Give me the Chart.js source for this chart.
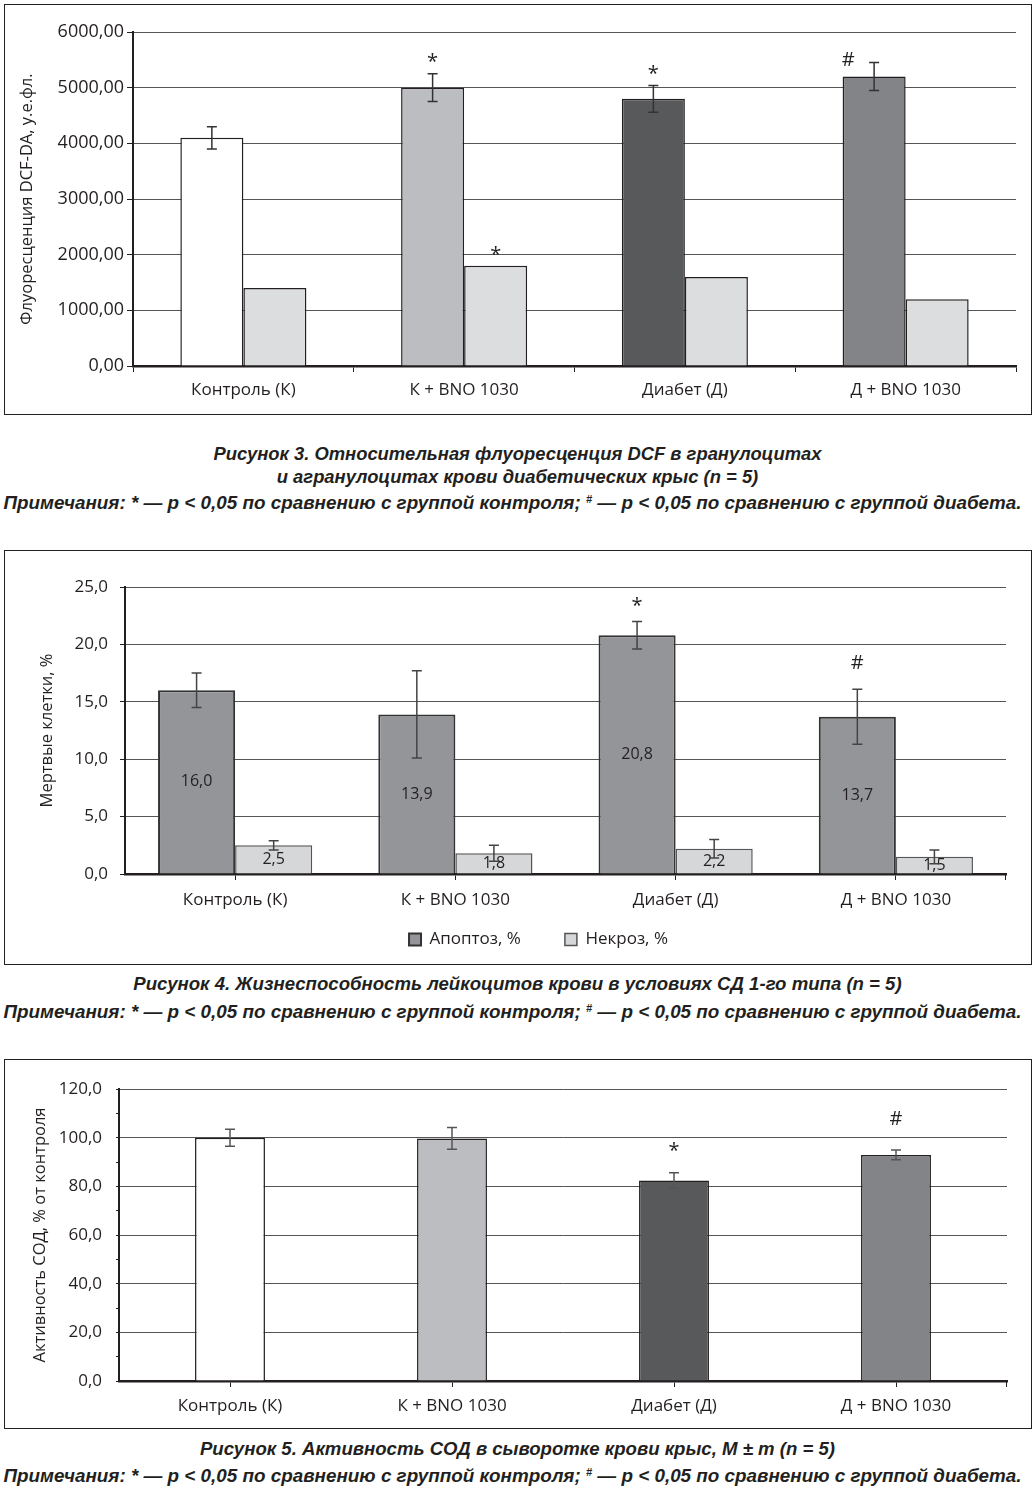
<!DOCTYPE html>
<html lang="ru">
<head>
<meta charset="utf-8">
<title>Рисунки 3–5</title>
<script src="https://cdn.jsdelivr.net/npm/chart.js@4.4.1/dist/chart.umd.min.js"></script>
<style>
  body { margin: 0; width: 1035px; height: 1489px; background: #fff; position: relative; overflow: hidden; }
  .box { position: absolute; left: 4px; width: 1026px; border: 1px solid #231f20; }
  .box canvas { display: block; }
  .cap { position: absolute; left: 0; width: 1035px; text-align: center; white-space: nowrap;
         font: italic bold 18.6px "Liberation Sans", Arial, sans-serif; color: #231f20; line-height: 22px; }
  .cap.note { font-size: 18.85px; left: -5px; }
  .cap sup { font-size: 11px; vertical-align: 6px; line-height: 0; }
</style>
</head>
<body>

<div class="box" style="top:4px;height:409px"><canvas id="fig3" width="1026" height="409"></canvas></div>
<div class="cap" style="top:443px;font-size:18.4px">Рисунок 3. Относительная флуоресценция DCF в гранулоцитах</div>
<div class="cap" style="top:466px;font-size:18.4px">и агранулоцитах крови диабетических крыс (n = 5)</div>
<div class="cap note" style="top:492px">Примечания: * — p &lt; 0,05 по сравнению с группой контроля; <sup>#</sup> — p &lt; 0,05 по сравнению с группой диабета.</div>

<div class="box" style="top:550px;height:413px"><canvas id="fig4" width="1026" height="413"></canvas></div>
<div class="cap" style="top:973px">Рисунок 4. Жизнеспособность лейкоцитов крови в условиях СД 1-го типа (n = 5)</div>
<div class="cap note" style="top:1001px">Примечания: * — p &lt; 0,05 по сравнению с группой контроля; <sup>#</sup> — p &lt; 0,05 по сравнению с группой диабета.</div>

<div class="box" style="top:1059px;height:368px"><canvas id="fig5" width="1026" height="368"></canvas></div>
<div class="cap" style="top:1438px">Рисунок 5. Активность СОД в сыворотке крови крыс, M ± m (n = 5)</div>
<div class="cap note" style="top:1465px">Примечания: * — p &lt; 0,05 по сравнению с группой контроля; <sup>#</sup> — p &lt; 0,05 по сравнению с группой диабета.</div>

<script>
const groups = ["Контроль (К)", "К + BNO 1030", "Диабет (Д)", "Д + BNO 1030"];

// Рисунок 3 - флуоресценция DCF
const dcfGran = [4100, 5000, 4800, 5200];
const dcfGranErr = [200, 250, 240, 250];
const dcfAgran = [1400, 1800, 1600, 1200];
const dcfGranMarks = ["", "*", "*", "#"];
const dcfAgranMarks = ["", "*", "", ""];
const dcfTicks = [0, 1000, 2000, 3000, 4000, 5000, 6000];

// Рисунок 4 - мертвые клетки
const apoptosis = [16.0, 13.9, 20.8, 13.7];
const apoptosisErr = [1.5, 3.8, 1.2, 2.4];
const necrosis = [2.5, 1.8, 2.2, 1.5];
const necrosisErr = [0.4, 0.7, 0.8, 0.6];
const apoptosisMarks = ["", "", "*", "#"];
const deadTicks = [0, 5, 10, 15, 20, 25];

// Рисунок 5 - активность СОД
const sod = [100.0, 99.7, 82.4, 92.9];
const sodErr = [3.5, 4.5, 3.2, 2.0];
const sodMarks = ["", "", "*", "#"];
const sodTicks = [0, 20, 40, 60, 80, 100, 120];

const groupColors = ["#ffffff", "#bcbdc0", "#58595b", "#838487"];
const ink = "#231f20";
const gridColor = "#555555";
const family = "'Open Sans', sans-serif";
const font = { family, size: 17 };
const titleFont = { family, size: 16.5 };
const fmt = (v, d) => Number(v).toFixed(d).replace(".", ",");

// error bars, significance marks, value labels, closing x tick
function decorations(cfg) {
  return {
    id: "decorations",
    afterLayout(chart) {
      // legend in the original sits a bit right of centre
      if (cfg.legendShift && chart.legend) chart.legend.left += cfg.legendShift;
    },
    afterDatasetsDraw(chart) {
      const ctx = chart.ctx;
      const y = chart.scales.y;
      ctx.save();
      chart.data.datasets.forEach((ds, di) => {
        const meta = chart.getDatasetMeta(di);
        const errs = cfg.errors[di];
        const marks = cfg.marks[di];
        meta.data.forEach((bar, i) => {
          const v = ds.data[i];
          if (cfg.labels && cfg.labels[di]) {
            ctx.fillStyle = ink;
            ctx.font = "16px " + family;
            ctx.textAlign = "center";
            ctx.textBaseline = "middle";
            ctx.fillText(fmt(v, 1), bar.x, (bar.y + bar.base) / 2);
          }
          let top = bar.y;
          if (errs) {
            const hi = y.getPixelForValue(v + errs[i]);
            const lo = y.getPixelForValue(v - errs[i]);
            top = hi;
            ctx.strokeStyle = cfg.errColor;
            ctx.lineWidth = 1.5;
            ctx.beginPath();
            ctx.moveTo(bar.x, hi); ctx.lineTo(bar.x, lo);
            ctx.moveTo(bar.x - 5, hi); ctx.lineTo(bar.x + 5, hi);
            ctx.moveTo(bar.x - 5, lo); ctx.lineTo(bar.x + 5, lo);
            ctx.stroke();
          }
          const m = marks && marks[i];
          if (m) {
            ctx.fillStyle = ink;
            ctx.font = "20px " + family;
            ctx.textAlign = "center";
            ctx.textBaseline = "middle";
            ctx.fillText(m, bar.x + (cfg.markShift[m] || 0), top - cfg.markGap[m]);
          }
        });
      });
      if (cfg.endTick) {
        const a = chart.chartArea;
        ctx.strokeStyle = ink;
        ctx.lineWidth = 1;
        ctx.beginPath();
        ctx.moveTo(a.right - 0.5, a.bottom);
        ctx.lineTo(a.right - 0.5, a.bottom + 6);
        ctx.stroke();
      }
      ctx.restore();
    }
  };
}

// Рисунок 3
new Chart(document.getElementById("fig3"), {
  type: "bar",
  data: {
    labels: groups,
    datasets: [
      { data: dcfGran, backgroundColor: groupColors, borderColor: ink, borderWidth: 1.5 },
      { data: dcfAgran, backgroundColor: "#dcdddf", borderColor: ink, borderWidth: 1.5 }
    ]
  },
  options: {
    responsive: false,
    animation: false,
    categoryPercentage: 0.571,
    barPercentage: 1,
    layout: { padding: { left: 8, right: 15, top: 27, bottom: 0 } },
    plugins: { legend: { display: false }, tooltip: { enabled: false } },
    scales: {
      x: {
        afterFit: s => { s.height = 48; },
        border: { color: ink, width: 2.5 },
        grid: { drawOnChartArea: false, tickLength: 6, tickColor: ink, offset: true },
        ticks: { font, color: ink, padding: 8 }
      },
      y: {
        min: 0, max: 6000,
        afterFit: s => { s.width = 120; },
        afterBuildTicks: s => { s.ticks = dcfTicks.map(v => ({ value: v })); },
        border: { color: ink, width: 2 },
        grid: { color: gridColor, lineWidth: 1, tickLength: 6, tickColor: ink },
        ticks: { font: { family, size: 18 }, color: ink, padding: 3, callback: v => fmt(v, 2) },
        title: { display: true, text: "Флуоресценция DCF-DA, у.е.фл.", font: titleFont, color: ink, padding: { top: 4, bottom: 0 } }
      }
    }
  },
  plugins: [decorations({
    errors: [dcfGranErr, null], marks: [dcfGranMarks, dcfAgranMarks], errColor: "#333",
    markGap: { "*": 11, "#": 2 }, markShift: { "#": -26 }
  })]
});

// Рисунок 4
const legendLabels = chart => Chart.defaults.plugins.legend.labels.generateLabels(chart)
  .map((item, i) => Object.assign(item, { text: i === 0 ? item.text + "\u2003\u2003" : item.text }));

new Chart(document.getElementById("fig4"), {
  type: "bar",
  data: {
    labels: groups,
    datasets: [
      { label: "Апоптоз, %", data: apoptosis, backgroundColor: "#939598", borderColor: "#333", borderWidth: 2 },
      { label: "Некроз, %", data: necrosis, backgroundColor: "#d6d7d9", borderColor: "#555", borderWidth: 1.5 }
    ]
  },
  options: {
    responsive: false,
    animation: false,
    categoryPercentage: 0.70,
    barPercentage: 1,
    layout: { padding: { left: 28, right: 25, top: 36, bottom: 6 } },
    plugins: {
      legend: {
        position: "bottom",
        labels: { boxWidth: 12, boxHeight: 12, padding: 10, font, color: ink, generateLabels: legendLabels }
      },
      tooltip: { enabled: false }
    },
    scales: {
      x: {
        afterFit: s => { s.height = 47; },
        border: { color: ink, width: 2.5 },
        grid: { drawOnChartArea: false, tickLength: 6, tickColor: ink, offset: false },
        ticks: { font, color: ink, padding: 10 }
      },
      y: {
        min: 0, max: 25,
        afterFit: s => { s.width = 92; },
        afterBuildTicks: s => { s.ticks = deadTicks.map(v => ({ value: v })); },
        border: { color: ink, width: 2 },
        grid: { color: gridColor, lineWidth: 1, tickLength: 5, tickColor: ink },
        ticks: { font, color: ink, padding: 12, callback: v => fmt(v, 1) },
        title: { display: true, text: "Мертвые клетки, %", font: titleFont, color: ink, padding: { top: 4, bottom: 0 } }
      }
    }
  },
  plugins: [decorations({
    errors: [apoptosisErr, necrosisErr], marks: [apoptosisMarks, null], labels: [true, true], errColor: "#444",
    markGap: { "*": 15, "#": 26 }, markShift: {}, endTick: true, legendShift: 38
  })]
});

// Рисунок 5
new Chart(document.getElementById("fig5"), {
  type: "bar",
  data: {
    labels: groups,
    datasets: [
      { data: sod, backgroundColor: groupColors, borderColor: ink, borderWidth: 1.5 }
    ]
  },
  options: {
    responsive: false,
    animation: false,
    categoryPercentage: 0.315,
    barPercentage: 1,
    layout: { padding: { left: 21, right: 24, top: 29, bottom: 0 } },
    plugins: { legend: { display: false }, tooltip: { enabled: false } },
    scales: {
      x: {
        afterFit: s => { s.height = 47; },
        border: { color: ink, width: 2.5 },
        grid: { drawOnChartArea: false, tickLength: 6, tickColor: ink, offset: false },
        ticks: { font, color: ink, padding: 9 }
      },
      y: {
        min: 0, max: 120,
        ticks: { stepSize: 10, font, color: ink, padding: 14, callback: v => sodTicks.includes(v) ? fmt(v, 1) : "" },
        afterFit: s => { s.width = 93; },
        border: { color: ink, width: 2 },
        grid: {
          color: c => sodTicks.includes(c.tick.value) ? gridColor : "rgba(0,0,0,0)",
          lineWidth: 1, tickLength: 3, tickColor: ink
        },
        title: { display: true, text: "Активность СОД, % от контроля", font: titleFont, color: ink, padding: { top: 4, bottom: 0 } }
      }
    }
  },
  plugins: [decorations({
    errors: [sodErr], marks: [sodMarks], errColor: "#555",
    markGap: { "*": 21, "#": 31 }, markShift: {}, endTick: true
  })]
});
</script>
</body>
</html>
